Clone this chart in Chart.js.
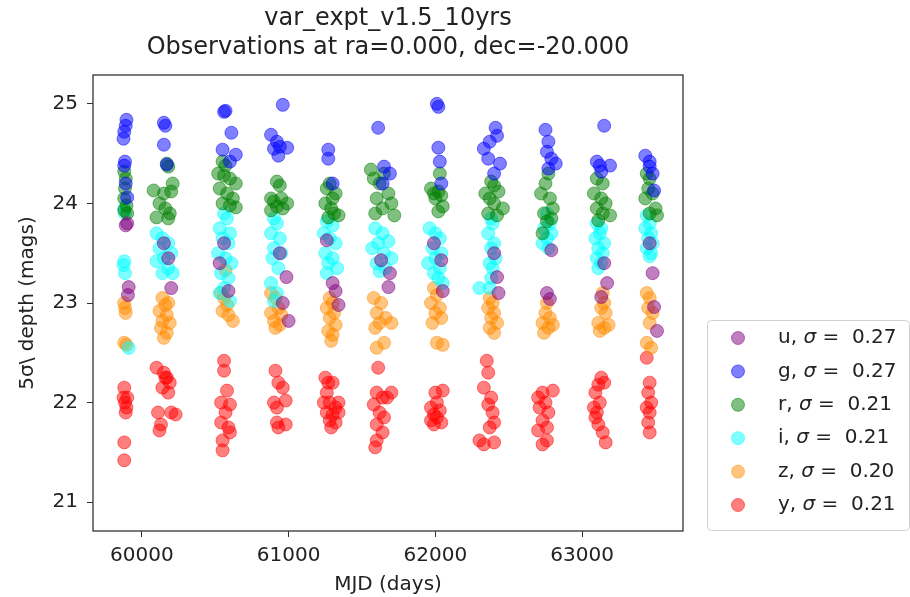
<!DOCTYPE html>
<html>
<head>
<meta charset="utf-8">
<script src="https://cdn.jsdelivr.net/npm/chart.js@4"></script>
<style>
html, body { margin: 0; padding: 0; background: #fff; }
canvas { display: block; }
</style>
</head>
<body>
<canvas id="depthChart" width="910" height="597"></canvas>
<script>
const titleLines = ["var_expt_v1.5_10yrs", "Observations at ra=0.000, dec=-20.000"]
const filters = ["u", "g", "r", "i", "z", "y"]
const sigmas = ["0.27", "0.27", "0.21", "0.21", "0.20", "0.21"]
const colors = ["128,0,128", "0,0,255", "0,128,0", "0,255,255", "255,140,0", "255,0,0"]
const xTicks = [60000, 61000, 62000, 63000]
const yTicks = [21, 22, 23, 24, 25]

// [MJD, 5 sigma depth] per filter
const uObs = [
[59890,23.78],[59900,23.8],[59910,23.16],[59905,23.08],
[60180,23.45],[60200,23.15],[60150,23.6],
[60560,23.6],[60590,23.12],[60530,23.4],
[60985,23.26],[60960,23.0],[61000,22.82],[60940,23.5],
[61260,23.63],[61300,23.2],[61320,23.12],[61340,22.98],
[61630,23.43],[61680,23.16],[61690,23.3],
[62040,23.43],[62050,23.12],[61990,23.6],
[62420,23.26],[62430,23.1],[62400,23.5],
[62790,23.53],[62760,23.1],[62780,23.04],
[63170,23.2],[63130,23.06],[63150,23.4],
[63480,23.3],[63490,22.96],[63510,22.72],[63460,23.6]
]
const gObs = [
[59895,24.84],[59890,24.78],[59880,24.72],[59875,24.65],[59885,24.42],[59880,24.38],[59890,24.2],[59900,24.06],
[60150,24.81],[60160,24.78],[60150,24.59],[60170,24.39],
[60560,24.92],[60570,24.93],[60610,24.71],[60550,24.54],[60640,24.49],[60600,24.42],
[60960,24.99],[60880,24.69],[60920,24.62],[60940,24.57],[60900,24.55],[60990,24.56],[60930,24.48],
[61270,24.54],[61270,24.45],[61300,24.2],
[61610,24.76],[61650,24.37],[61690,24.3],[61640,24.2],
[62020,24.97],[62010,25.0],[62020,24.56],[62030,24.42],[62040,24.2],
[62410,24.76],[62370,24.62],[62330,24.55],[62420,24.68],[62360,24.45],[62440,24.4],[62400,24.3],
[62750,24.74],[62770,24.62],[62760,24.52],[62790,24.45],[62820,24.4],[62770,24.35],
[63150,24.78],[63100,24.42],[63120,24.38],[63190,24.38],[63130,24.32],
[63430,24.48],[63460,24.42],[63460,24.37],[63480,24.3],[63490,24.13]
]
const rObs = [
[59880,24.32],[59890,24.25],[59885,24.15],[59880,24.05],[59895,23.98],[59880,23.93],[59900,23.9],
[60170,24.4],[60180,24.37],[60080,24.13],[60150,24.1],[60200,24.12],[60120,24.0],[60160,23.95],[60190,23.9],[60100,23.86],[60180,23.85],[60210,24.2],
[60550,24.42],[60570,24.38],[60520,24.3],[60560,24.28],[60600,24.25],[60640,24.2],[60530,24.15],[60580,24.1],[60620,24.05],[60550,24.0],[60600,23.98],[60640,23.96],
[60920,24.22],[60940,24.18],[60880,24.05],[60900,24.02],[60950,24.05],[60920,23.97],[60960,23.95],[60880,23.93],[60990,24.0],
[61280,24.2],[61260,24.15],[61300,24.05],[61320,24.1],[61250,24.0],[61290,23.95],[61310,23.9],[61340,23.88],[61270,23.86],
[61560,24.34],[61580,24.25],[61620,24.2],[61650,24.3],[61680,24.1],[61600,24.05],[61700,24.0],[61640,23.95],[61590,23.9],[61720,23.88],
[61970,24.15],[61990,24.1],[62020,24.12],[62040,24.08],[62000,24.05],[62050,23.97],[62020,23.92],[62030,24.3],
[62380,24.22],[62400,24.18],[62340,24.1],[62430,24.12],[62370,24.05],[62400,24.0],[62460,23.95],[62360,23.9],[62420,23.88],
[62750,24.2],[62720,24.1],[62780,24.05],[62800,23.95],[62740,23.9],[62760,23.82],[62730,23.7],[62790,23.85],[62770,24.3],
[63100,24.25],[63140,24.2],[63080,24.1],[63130,24.05],[63160,24.0],[63100,23.95],[63140,23.9],[63190,23.88],[63110,23.83],
[63440,24.3],[63460,24.25],[63450,24.15],[63480,24.1],[63430,24.05],[63500,23.95],[63460,23.9],[63510,23.88]
]
const iObs = [
[59880,23.95],[59885,23.9],[59880,23.42],[59875,23.38],[59885,23.3],[59910,22.55],
[60100,23.7],[60140,23.65],[60180,23.6],[60120,23.55],[60200,23.5],[60150,23.45],[60100,23.42],[60180,23.35],[60210,23.3],[60140,23.3],
[60560,23.9],[60580,23.85],[60530,23.75],[60600,23.7],[60550,23.65],[60590,23.6],[60520,23.5],[60570,23.45],[60610,23.4],[60540,23.3],[60590,23.25],[60530,23.1],[60600,23.02],[60560,23.15],
[60900,23.85],[60920,23.8],[60880,23.7],[60940,23.65],[60900,23.55],[60950,23.5],[60890,23.45],[60930,23.35],[60880,23.2],[60920,23.1],[60900,23.02],
[61260,23.82],[61300,23.78],[61240,23.7],[61280,23.65],[61320,23.6],[61250,23.5],[61300,23.45],[61270,23.4],[61330,23.35],[61260,23.3],
[61590,23.75],[61640,23.7],[61610,23.6],[61680,23.62],[61570,23.55],[61650,23.5],[61700,23.45],[61600,23.4],[61660,23.35],[61620,23.32],
[61960,23.75],[62000,23.7],[62030,23.65],[61980,23.55],[62040,23.5],[62000,23.45],[61950,23.4],[62030,23.35],[61990,23.3],[62020,23.25],[62050,23.2],
[62380,23.85],[62390,23.8],[62360,23.7],[62400,23.6],[62380,23.55],[62410,23.45],[62370,23.4],[62390,23.35],[62380,23.25],[62370,23.15],[62300,23.15],
[62760,23.9],[62780,23.8],[62740,23.75],[62790,23.7],[62760,23.65],[62730,23.6],[62770,23.55],
[63100,23.8],[63130,23.75],[63120,23.7],[63090,23.65],[63150,23.6],[63110,23.55],[63140,23.5],[63100,23.45],[63130,23.4],[63110,23.35],
[63440,23.88],[63460,23.8],[63430,23.75],[63470,23.7],[63450,23.65],[63480,23.6],[63440,23.55],[63470,23.5],[63460,23.47]
]
const zObs = [
[59880,23.0],[59885,22.95],[59890,22.9],[59880,22.6],[59895,22.58],
[60140,23.05],[60160,22.98],[60120,22.92],[60170,22.88],[60140,22.82],[60190,22.8],[60130,22.75],[60170,22.7],[60150,22.65],[60180,23.0],
[60540,23.1],[60560,23.05],[60580,22.98],[60550,22.92],[60590,22.88],[60620,22.82],[60570,23.33],
[60910,23.05],[60930,22.95],[60880,22.9],[60950,22.88],[60900,22.82],[60940,22.78],[60910,22.75],[60880,23.1],
[61280,23.05],[61300,23.0],[61260,22.95],[61310,22.9],[61280,22.85],[61320,22.78],[61270,22.72],[61300,22.68],[61290,22.62],
[61580,23.05],[61630,23.0],[61600,22.9],[61660,22.85],[61620,22.8],[61590,22.75],[61700,22.8],[61650,22.6],[61600,22.55],
[61990,23.15],[62010,23.08],[61970,23.0],[62030,22.95],[62000,22.9],[62040,22.85],[61980,22.8],[62010,22.6],[62050,22.58],
[62370,23.05],[62390,23.0],[62360,22.95],[62400,22.9],[62380,22.85],[62420,22.8],[62370,22.75],[62400,22.7],
[62760,23.0],[62750,22.9],[62780,22.85],[62730,22.8],[62770,22.75],[62800,22.78],[62740,22.7],
[63140,23.1],[63150,23.0],[63130,22.95],[63160,22.9],[63110,22.8],[63150,22.75],[63180,22.78],[63120,22.72],
[63440,23.1],[63460,23.05],[63450,22.95],[63480,22.9],[63460,22.8],[63440,22.6],[63470,22.55]
]
const yObs = [
[59880,22.15],[59875,22.05],[59885,22.0],[59895,21.95],[59890,21.9],[59900,22.05],[59880,21.6],[59880,21.42],
[60100,22.35],[60150,22.3],[60170,22.25],[60190,22.2],[60140,22.15],[60180,22.1],[60160,22.25],[60110,21.9],[60130,21.78],[60200,21.9],[60230,21.88],[60120,21.72],
[60560,22.42],[60560,22.32],[60580,22.12],[60540,22.0],[60600,21.98],[60570,21.9],[60540,21.8],[60590,21.75],[60600,21.7],[60550,21.62],[60550,21.52],
[60910,22.32],[60930,22.2],[60960,22.15],[60900,22.0],[60920,21.95],[60980,22.02],[60920,21.8],[60930,21.75],[60980,21.78],
[61250,22.25],[61270,22.2],[61300,22.2],[61260,22.1],[61240,22.0],[61280,22.0],[61320,21.95],[61340,22.0],[61260,21.9],[61300,21.88],[61340,21.9],[61280,21.82],[61320,21.8],[61290,21.75],
[61610,22.35],[61600,22.1],[61640,22.05],[61580,21.98],[61620,21.9],[61650,21.85],[61600,21.78],[61640,21.7],[61600,21.62],[61590,21.55],[61670,22.05],[61700,22.1],
[62000,22.1],[62010,22.0],[61970,21.95],[62030,21.92],[61990,21.88],[62010,21.85],[61970,21.82],[62040,21.8],[61990,21.78],[62050,22.12],
[62350,22.42],[62360,22.3],[62330,22.15],[62380,22.05],[62360,21.98],[62390,21.9],[62400,21.8],[62370,21.75],[62300,21.62],[62330,21.58],[62400,21.6],
[62700,22.05],[62730,22.1],[62750,22.0],[62710,21.95],[62770,21.9],[62730,21.82],[62760,21.75],[62700,21.72],[62760,21.62],[62730,21.58],[62800,22.12],
[63130,22.25],[63110,22.18],[63150,22.2],[63090,22.1],[63120,22.0],[63080,21.95],[63100,21.9],[63090,21.85],[63110,21.78],[63140,21.7],[63160,21.6],
[63440,22.45],[63460,22.2],[63450,22.1],[63470,22.0],[63440,21.95],[63460,21.9],[63450,21.8],[63460,21.7]
]
const observations = [uObs, gObs, rObs, iObs, zObs, yObs]

const FONT = '"DejaVu Sans", sans-serif'
const TEXT = "#222"

// box, title and legend are drawn by hand, matplotlib style
const decorPlugin = {
id: "decor",
afterDraw(chart) {
const ctx = chart.ctx
const a = chart.chartArea
ctx.save()

ctx.strokeStyle = "#333"
ctx.lineWidth = 1.3
ctx.strokeRect(a.left, a.top, a.right - a.left, a.bottom - a.top)

ctx.fillStyle = TEXT
ctx.font = "24px " + FONT
ctx.textAlign = "center"
ctx.textBaseline = "middle"
titleLines.forEach((t, i) => ctx.fillText(t, (a.left + a.right) / 2, 19 + i * 29))

// legend
ctx.beginPath()
ctx.roundRect(707.5, 320.5, 202, 210, 4)
ctx.fillStyle = "rgba(255,255,255,0.8)"
ctx.fill()
ctx.strokeStyle = "#d0d0d0"
ctx.lineWidth = 1
ctx.stroke()

ctx.textAlign = "left"
filters.forEach((f, i) => {
const y = 338 + i * 33.4
ctx.beginPath()
ctx.arc(738, y, 6.5, 0, Math.PI * 2)
ctx.fillStyle = "rgba(" + colors[i] + ",0.5)"
ctx.fill()
ctx.strokeStyle = "rgba(" + colors[i] + ",0.5)"
ctx.stroke()

ctx.fillStyle = TEXT
let x = 778
ctx.font = "20px " + FONT
const pre = f + ", "
ctx.fillText(pre, x, y)
x += ctx.measureText(pre).width
ctx.font = "italic 20px " + FONT
ctx.fillText("σ", x, y)
x += ctx.measureText("σ").width
ctx.font = "20px " + FONT
ctx.fillText(" =  " + sigmas[i], x, y)
})
ctx.restore()
}
}

const datasets = filters.map((f, i) => ({
label: f + ", σ= " + sigmas[i],
data: observations[i].map(p => ({x: p[0], y: p[1]})),
backgroundColor: "rgba(" + colors[i] + ",0.5)",
borderColor: "rgba(" + colors[i] + ",0.5)",
borderWidth: 1,
pointRadius: 6.5,
pointHoverRadius: 6.5
}))

new Chart(document.getElementById("depthChart"), {
type: "scatter",
data: {datasets},
options: {
responsive: false,
animation: false,
layout: {padding: {top: 75, right: 227, left: 0, bottom: 0}},
plugins: {legend: {display: false}, tooltip: {enabled: false}},
scales: {
x: {
min: 59667,
max: 63687,
afterBuildTicks: s => { s.ticks = xTicks.map(v => ({value: v})) },
afterFit: s => { s.height = 66 },
grid: {drawOnChartArea: false, tickLength: 6, color: "#333"},
border: {display: false},
ticks: {color: TEXT, font: {family: FONT, size: 20}, padding: 7, maxRotation: 0, callback: v => String(v)},
title: {display: true, text: "MJD (days)", color: TEXT, font: {family: FONT, size: 20}, padding: 0}
},
y: {
min: 20.71,
max: 25.29,
afterBuildTicks: s => { s.ticks = yTicks.map(v => ({value: v})) },
afterFit: s => { s.width = 93 },
grid: {drawOnChartArea: false, tickLength: 6, color: "#333"},
border: {display: false},
ticks: {color: TEXT, font: {family: FONT, size: 20}, padding: 9, callback: v => String(v)},
title: {display: true, text: "5σ\\ depth (mags)", color: TEXT, font: {family: FONT, size: 20}, padding: {top: 16, bottom: 0}}
}
}
},
plugins: [decorPlugin]
})
</script>
</body>
</html>
